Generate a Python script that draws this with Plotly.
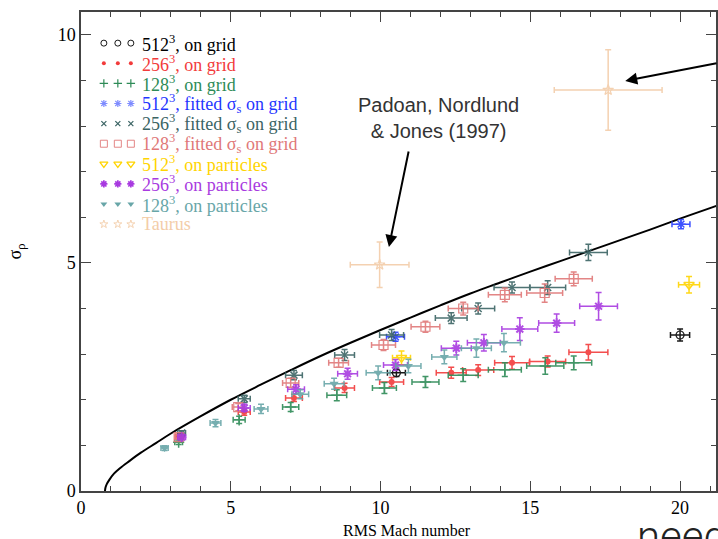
import plotly.graph_objects as go

# ---------------- data ----------------
# Padoan, Nordlund & Jones (1997) curve
curve_x = [0.80, 0.82, 0.86, 0.95, 1.10, 1.30, 1.60, 2.00, 2.50, 3.00, 4.00, 5.00,
           6.00, 7.00, 8.00, 9.00, 10.0, 11.0, 12.0, 13.0, 14.0, 15.0, 16.0, 17.0,
           18.0, 19.0, 20.0, 21.0, 21.3]
curve_y = [0.00, 0.08, 0.15, 0.25, 0.38, 0.50, 0.65, 0.84, 1.05, 1.26, 1.64, 2.00,
           2.33, 2.65, 2.96, 3.25, 3.53, 3.80, 4.07, 4.33, 4.57, 4.81, 5.04, 5.27,
           5.50, 5.73, 5.97, 6.20, 6.27]

# 512^3, on grid
g512_x = [10.53, 20.00]
g512_y = [2.59, 3.42]
g512_xe = [0.30, 0.32]
g512_ye = [0.08, 0.13]

# 256^3, on grid
g256_x = [3.30, 5.45, 7.11, 8.80, 10.37, 12.36, 13.26, 14.39, 15.58, 16.94]
g256_y = [1.20, 1.73, 2.04, 2.26, 2.39, 2.59, 2.65, 2.81, 2.84, 3.04]
g256_xe = [0.13, 0.20, 0.28, 0.33, 0.40, 0.50, 0.52, 0.58, 0.60, 0.65]
g256_ye = [0.05, 0.07, 0.08, 0.10, 0.10, 0.12, 0.12, 0.14, 0.12, 0.17]

# 128^3, on grid
g128_x = [3.26, 5.28, 7.00, 8.54, 10.13, 11.50, 12.76, 14.15, 15.50, 16.45]
g128_y = [1.07, 1.56, 1.84, 2.10, 2.26, 2.39, 2.54, 2.66, 2.74, 2.81]
g128_xe = [0.13, 0.20, 0.27, 0.33, 0.40, 0.45, 0.50, 0.55, 0.62, 0.60]
g128_ye = [0.05, 0.08, 0.10, 0.12, 0.12, 0.12, 0.14, 0.15, 0.18, 0.15]

# 512^3, fitted sigma_s on grid
f512_x = [10.50, 20.03]
f512_y = [3.38, 5.85]
f512_xe = [0.30, 0.30]
f512_ye = [0.10, 0.10]

# 256^3, fitted sigma_s on grid
f256_x = [3.36, 5.45, 7.11, 8.80, 10.37, 12.36, 13.26, 14.39, 15.58, 16.94]
f256_y = [1.27, 2.02, 2.54, 2.98, 3.42, 3.79, 4.00, 4.46, 4.46, 5.23]
f256_xe = [0.13, 0.20, 0.28, 0.33, 0.40, 0.53, 0.55, 0.60, 0.60, 0.63]
f256_ye = [0.05, 0.08, 0.10, 0.12, 0.12, 0.12, 0.12, 0.12, 0.15, 0.18]

# 128^3, fitted sigma_s on grid
f128_x = [3.26, 5.25, 7.00, 8.60, 10.10, 11.50, 12.76, 14.15, 15.48, 16.45]
f128_y = [1.18, 1.84, 2.37, 2.81, 3.20, 3.60, 4.00, 4.30, 4.34, 4.65]
f128_xe = [0.13, 0.20, 0.27, 0.33, 0.40, 0.48, 0.50, 0.55, 0.60, 0.62]
f128_ye = [0.05, 0.08, 0.10, 0.10, 0.12, 0.12, 0.14, 0.15, 0.20, 0.15]

# 512^3, on particles
p512_x = [10.70, 20.30]
p512_y = [2.92, 4.52]
p512_xe = [0.30, 0.35]
p512_ye = [0.15, 0.18]

# 256^3, on particles
p256_x = [3.36, 5.45, 7.18, 8.90, 10.50, 12.53, 13.45, 14.65, 15.88, 17.28]
p256_y = [1.18, 1.82, 2.23, 2.57, 2.76, 3.13, 3.25, 3.55, 3.68, 4.05]
p256_xe = [0.13, 0.20, 0.28, 0.33, 0.40, 0.50, 0.55, 0.60, 0.60, 0.63]
p256_ye = [0.05, 0.08, 0.10, 0.12, 0.12, 0.15, 0.18, 0.25, 0.20, 0.30]

# 128^3, on particles
p128_x = [2.79, 4.49, 6.01, 7.32, 8.45, 9.92, 10.93, 12.13, 13.20, 14.12]
p128_y = [0.94, 1.49, 1.80, 2.12, 2.35, 2.59, 2.74, 2.94, 3.13, 3.25]
p128_xe = [0.12, 0.18, 0.23, 0.28, 0.33, 0.40, 0.42, 0.42, 0.50, 0.55]
p128_ye = [0.05, 0.08, 0.10, 0.10, 0.12, 0.15, 0.15, 0.15, 0.20, 0.20]

# Taurus
tau_x = [17.60, 9.97]
tau_y = [8.79, 4.96]
tau_xe = [1.80, 0.98]
tau_ye = [0.88, 0.50]

legend_names = [
    "512<sup>3</sup>, on grid",
    "256<sup>3</sup>, on grid",
    "128<sup>3</sup>, on grid",
    "512<sup>3</sup>, fitted σ<sub>s</sub> on grid",
    "256<sup>3</sup>, fitted σ<sub>s</sub> on grid",
    "128<sup>3</sup>, fitted σ<sub>s</sub> on grid",
    "512<sup>3</sup>, on particles",
    "256<sup>3</sup>, on particles",
    "128<sup>3</sup>, on particles",
    "Taurus",
]

# ---------------- styles ----------------
SERIF = "Liberation Serif, Times New Roman, serif"
SANS = "Liberation Sans, Helvetica, Arial, sans-serif"

series = [
    # x, y, xe, ye, color, symbol, size, linewidth, text colour, legend marker colour
    (g512_x, g512_y, g512_xe, g512_ye, "#000000", "circle-open", 8, 1.2, "#000000", "#000000"),
    (g256_x, g256_y, g256_xe, g256_ye, "#f23b3b", "circle", 6, 0, "#f23b3b", "#f23b3b"),
    (g128_x, g128_y, g128_xe, g128_ye, "#2e8b57", "cross-thin-open", 8, 1.5, "#2e8b57", "#2e8b57"),
    (f512_x, f512_y, f512_xe, f512_ye, "#2a40ff", "asterisk-open", 8, 1.5, "#1f36ff", "#7f8cff"),
    (f256_x, f256_y, f256_xe, f256_ye, "#3b6464", "x-thin-open", 7, 1.5, "#3b6464", "#3b6464"),
    (f128_x, f128_y, f128_xe, f128_ye, "#e07878", "square-open", 9, 1.2, "#e07878", "#e07878"),
    (p512_x, p512_y, p512_xe, p512_ye, "#ffd400", "triangle-down-open", 9, 1.6, "#ffd400", "#ffd400"),
    (p256_x, p256_y, p256_xe, p256_ye, "#a83ae0", "asterisk-open", 8, 2.0, "#a83ae0", "#a83ae0"),
    (p128_x, p128_y, p128_xe, p128_ye, "#68a6a8", "triangle-down", 8, 0, "#68a6a8", "#68a6a8"),
    (tau_x, tau_y, tau_xe, tau_ye, "#f3cda9", "star-open", 8, 1.2, "#f3cda9", "#f3cda9"),
]

fig = go.Figure()

fig.add_trace(go.Scatter(
    x=curve_x, y=curve_y, mode="lines",
    line=dict(color="black", width=2, shape="spline"),
    showlegend=False, hoverinfo="skip"))

# legend geometry (fractions of the plot area)
leg_mx = [0.036, 0.058, 0.0785]
leg_tx = 0.093
leg_y0 = 0.935
leg_dy = 0.0420

for i, (sx, sy, sxe, sye, col, sym, size, lw, tcol, lcol) in enumerate(series):
    mk = dict(symbol=sym, size=size, color=col, line=dict(color=col, width=lw))
    fig.add_trace(go.Scatter(
        x=sx, y=sy, mode="markers", marker=mk, opacity=0.9,
        error_x=dict(type="data", array=sxe, color=col, thickness=1.5, width=3),
        error_y=dict(type="data", array=sye, color=col, thickness=1.5, width=3),
        name=legend_names[i], showlegend=False))
    ly = leg_y0 - i * leg_dy
    fig.add_trace(go.Scatter(
        x=leg_mx, y=[ly] * 3, xaxis="x2", yaxis="y2", mode="markers",
        marker=dict(symbol=sym, size=size - 2, color=lcol,
                    line=dict(color=lcol, width=max(lw - 0.3, 0))),
        showlegend=False, hoverinfo="skip"))
    fig.add_annotation(
        xref="paper", yref="paper", x=leg_tx, y=ly, text=legend_names[i],
        showarrow=False, xanchor="left", yanchor="middle",
        font=dict(family=SERIF, size=18, color=tcol))

axis_common = dict(
    showline=True, linecolor="#444444", linewidth=1.5, mirror="ticks",
    ticks="inside", ticklen=10, tickwidth=1.2, tickcolor="#444444",
    showgrid=False, zeroline=False,
    tickfont=dict(family=SERIF, size=18, color="black"),
    minor=dict(dtick=1, ticks="inside", ticklen=5, tickwidth=1, tickcolor="#444444"),
)

fig.update_layout(
    width=718, height=539,
    margin=dict(l=81, r=0, t=12, b=48),
    plot_bgcolor="white", paper_bgcolor="white",
    showlegend=False,
    xaxis=dict(range=[0, 21.2], tick0=0, dtick=5, **axis_common),
    yaxis=dict(range=[0, 10.5], tick0=0, dtick=5,
               title=dict(text="σ<sub>ρ</sub>", standoff=31,
                          font=dict(family=SERIF, size=18, color="black")),
               **axis_common),
    xaxis2=dict(overlaying="x", anchor="y2", range=[0, 1], visible=False),
    yaxis2=dict(overlaying="y", anchor="x2", range=[0, 1], visible=False),
)

# x-axis title (placed as in the reference, slightly right of the visible centre)
fig.add_annotation(
    xref="paper", yref="paper", x=0.513, y=-0.082, text="RMS Mach number",
    showarrow=False, xanchor="center", yanchor="middle",
    font=dict(family=SERIF, size=16, color="black"))

# Annotations
fig.add_annotation(
    xref="paper", yref="paper", x=0.5636, y=0.833,
    text="Padoan, Nordlund<br>& Jones (1997)", showarrow=False,
    font=dict(family=SANS, size=20, color="#333333"), align="center")
fig.add_annotation(
    xref="x", yref="y", x=10.28, y=5.35, text="", showarrow=True,
    ax=20, ay=-97, arrowhead=2, arrowsize=1.2, arrowwidth=2, arrowcolor="black")
fig.add_annotation(
    xref="x", yref="y", x=18.17, y=8.99, text="", showarrow=True,
    ax=105, ay=-18, arrowhead=2, arrowsize=1.2, arrowwidth=2, arrowcolor="black")
fig.add_annotation(
    xref="paper", yref="paper", x=0.873, y=-0.094, text="need",
    showarrow=False, xanchor="left", yanchor="middle",
    font=dict(family="Roboto, Lato, sans-serif", size=42, color="#222222", weight=300))

fig.write_html("out.html")
